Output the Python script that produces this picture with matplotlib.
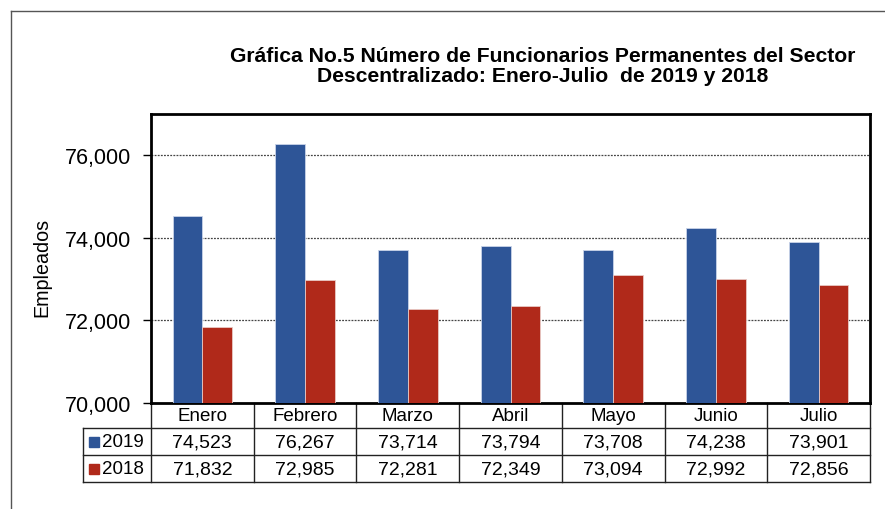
import matplotlib.pyplot as plt
import matplotlib.transforms as mtransforms
from matplotlib.lines import Line2D
from matplotlib.patches import Rectangle
import numpy as np

plt.rcParams['font.family'] = ['Liberation Sans', 'DejaVu Sans']

meses = ["Enero", "Febrero", "Marzo", "Abril", "Mayo", "Junio", "Julio"]
v2019 = [74523, 76267, 73714, 73794, 73708, 74238, 73901]
v2018 = [71832, 72985, 72281, 72349, 73094, 72992, 72856]
series = ["2019", "2018"]
colores = ["#2E5597", "#B0291A"]

W, H = 885, 510
fig = plt.figure(figsize=(W / 100, H / 100), dpi=100)

def fx(px):
    return px / W

def fy(py):
    return 1 - py / H

# frame lines of the picture
fig.add_artist(Line2D([fx(11), fx(11)], [fy(12), 0], transform=fig.transFigure, color="#555555", lw=1))
fig.add_artist(Line2D([fx(11), 1], [fy(12), fy(12)], transform=fig.transFigure, color="#555555", lw=1))

ax = fig.add_axes([fx(151), fy(404), fx(870) - fx(151), fy(115) - fy(404)])
x = np.arange(len(meses))
bw = 0.29
ax.bar(x - bw / 2, v2019, bw, color=colores[0], edgecolor="#c9d3e8", lw=0.6, zorder=3)
ax.bar(x + bw / 2, v2018, bw, color=colores[1], edgecolor="#e8c9c5", lw=0.6, zorder=3)
ax.set_xlim(-0.5, len(meses) - 0.5)
ax.set_ylim(70000, 77000)
yt = [70000, 72000, 74000, 76000]
ax.set_yticks(yt)
ax.set_yticklabels(["{:,}".format(t) for t in yt], fontsize=15.5)
ax.tick_params(axis="y", direction="out", length=6, width=1, pad=8)
ax.set_xticks([])
for s in ax.spines.values():
    s.set_linewidth(2)
for t in yt[1:]:
    ax.axhline(t, color="#444444", lw=0.9, ls=(0, (1.5, 1)), zorder=1)

fig.text(fx(42), fy(267), "Empleados", rotation=90, ha="center", va="center", fontsize=14.2)

fig.text(fx(543), fy(56), "Gráfica No.5 Número de Funcionarios Permanentes del Sector",
         ha="center", va="center", fontsize=15.2, fontweight="bold")
fig.text(fx(543), fy(77), "Descentralizado: Enero-Julio  de 2019 y 2018",
         ha="center", va="center", fontsize=15.2, fontweight="bold")

# data table under the axes
tr = mtransforms.blended_transform_factory(ax.transData, fig.transFigure)
lc = "#222222"
y_rows = [404, 429, 456, 483]
x_left = -0.5 - (151 - 83) / (719 / 7)
for yy in y_rows[1:]:
    ax.add_artist(Line2D([x_left, 6.5], [fy(yy), fy(yy)], transform=tr, color=lc, lw=1, clip_on=False))
for i in range(len(meses) + 1):
    ax.add_artist(Line2D([i - 0.5, i - 0.5], [fy(404), fy(483)], transform=tr, color=lc, lw=1, clip_on=False))
ax.add_artist(Line2D([x_left, x_left], [fy(429), fy(483)], transform=tr, color=lc, lw=1, clip_on=False))

for i, m in enumerate(meses):
    ax.text(i, fy(417), m, transform=tr, ha="center", va="center", fontsize=13.5)
    ax.text(i, fy(443), "{:,}".format(v2019[i]), transform=tr, ha="center", va="center", fontsize=14)
    ax.text(i, fy(470), "{:,}".format(v2018[i]), transform=tr, ha="center", va="center", fontsize=14)

for k, (lab, col) in enumerate(zip(series, colores)):
    yc = 443 if k == 0 else 470
    fig.add_artist(Rectangle((fx(89), fy(yc + 5)), fx(10), fy(yc - 5) - fy(yc + 5),
                             transform=fig.transFigure, color=col))
    fig.text(fx(102), fy(yc), lab, ha="left", va="center", fontsize=13.5)

fig.savefig("out.png", dpi=100)
